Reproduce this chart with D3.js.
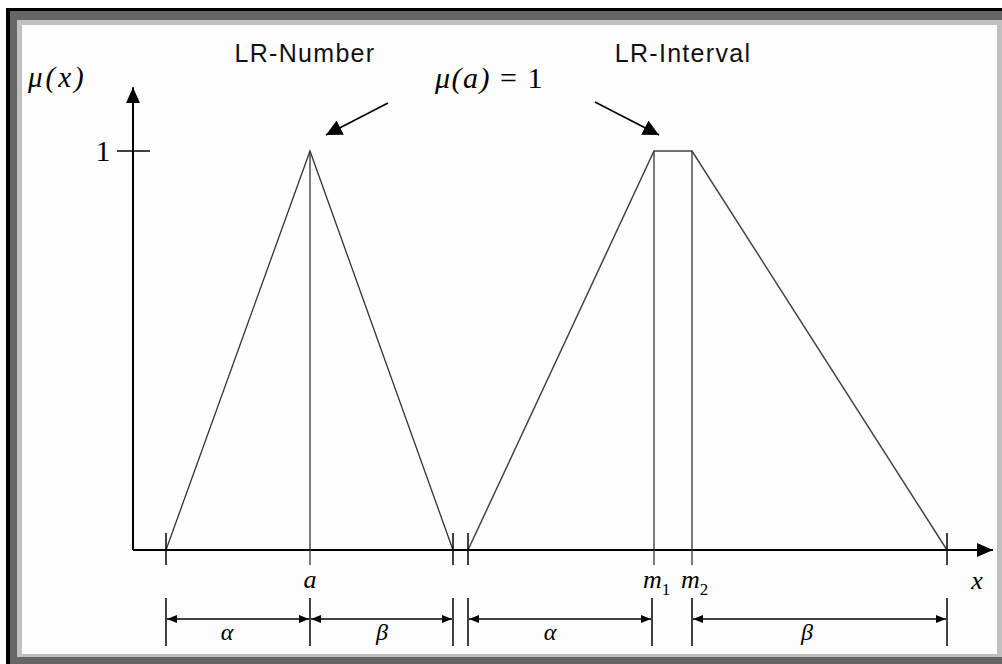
<!DOCTYPE html>
<html>
<head>
<meta charset="utf-8">
<script src="https://cdn.jsdelivr.net/npm/d3@7"></script>
<style>
  html, body { margin: 0; padding: 0; background: #fff; }
  svg { display: block; }
  .serif { font-family: "Liberation Serif", "DejaVu Serif", serif; }
  .sans { font-family: "Liberation Sans", Arial, sans-serif; }
</style>
</head>
<body>
<div id="chart"></div>
<script>
// LR-Zahl und LR-Intervall (Zugehörigkeitsfunktionen)

const W = 1002, H = 664;

// x-Werte in Achseneinheiten (Ursprung = 0)
const numberX = [3.3, 17.7, 32.0];          // links, a, rechts
const numberMu = [0, 1, 0];
const intervalX = [33.5, 52.1, 55.9, 81.4]; // links, m1, m2, rechts
const intervalMu = [0, 1, 1, 0];

// Marken auf der x-Achse
const tickX = [3.3, 32.0, 33.5, 81.4];
const peakX = [17.7, 52.1, 55.9];
const peakLabels = ["a", "m1", "m2"];

// Bemaßungen unten
const spans = [
  {from: 3.3, to: 17.7, label: "α", at: 9.4},
  {from: 17.7, to: 32.0, label: "β", at: 24.9},
  {from: 33.5, to: 51.9, label: "α", at: 41.7},
  {from: 55.9, to: 81.4, label: "β", at: 67.4}
];
const spanBars = [3.3, 17.7, 32.0, 33.5, 51.9, 55.9, 81.4];

const titles = [
  {text: "LR-Number", x: 17.2},
  {text: "LR-Interval", x: 55.0}
];

const x = d3.scaleLinear().domain([0, 86]).range([133, 993]);
const y = d3.scaleLinear().domain([0, 1]).range([550, 151]);

const svg = d3.select("#chart").append("svg")
  .attr("width", W).attr("height", H);

// Rahmen
svg.append("rect").attr("x", 6).attr("y", 8).attr("width", 996).attr("height", 656).attr("fill", "#000");
svg.append("rect").attr("x", 10).attr("y", 11).attr("width", 992).attr("height", 653).attr("fill", "#666");
svg.append("rect").attr("x", 17).attr("y", 20).attr("width", 985).attr("height", 637).attr("fill", "#c0c0c0");
svg.append("rect").attr("x", 22).attr("y", 25).attr("width", 975).attr("height", 629).attr("fill", "#fdfdfd");

const defs = svg.append("defs");
function marker(id, len, half) {
  defs.append("marker")
    .attr("id", id)
    .attr("markerUnits", "userSpaceOnUse")
    .attr("viewBox", `0 ${-half} ${len} ${2 * half}`)
    .attr("refX", len).attr("refY", 0)
    .attr("markerWidth", len).attr("markerHeight", 2 * half)
    .attr("orient", "auto-start-reverse")
    .append("path")
    .attr("d", `M0,${-half}L${len},0L0,${half}Z`)
    .attr("fill", "#000");
}
marker("axisHead", 16, 7);
marker("callHead", 16, 8);
marker("dimHead", 10, 4);

const g = svg.append("g");

// Achsen
g.append("line")
  .attr("x1", x(0)).attr("y1", y(0))
  .attr("x2", x(0)).attr("y2", y(1.16))
  .attr("stroke", "#000").attr("stroke-width", 2)
  .attr("marker-end", "url(#axisHead)");
g.append("line")
  .attr("x1", x(0)).attr("y1", y(0))
  .attr("x2", x(86)).attr("y2", y(0))
  .attr("stroke", "#000").attr("stroke-width", 2)
  .attr("marker-end", "url(#axisHead)");

// y-Tick bei 1
g.append("line")
  .attr("x1", x(0) - 16).attr("x2", x(0) + 17)
  .attr("y1", y(1)).attr("y2", y(1))
  .attr("stroke", "#000").attr("stroke-width", 1.5);
g.append("text").attr("class", "serif")
  .attr("x", x(0) - 30).attr("y", y(1) + 10)
  .attr("text-anchor", "middle")
  .style("font-size", "30px")
  .text("1");

// Kurven
const line = d3.line().x(d => x(d[0])).y(d => y(d[1]));
g.append("path")
  .attr("d", line(d3.zip(numberX, numberMu)))
  .attr("fill", "none").attr("stroke", "#333").attr("stroke-width", 1.3);
g.append("path")
  .attr("d", line(d3.zip(intervalX, intervalMu)))
  .attr("fill", "none").attr("stroke", "#444").attr("stroke-width", 1.5);

// senkrechte Linien an den Gipfeln
g.selectAll(".peak").data(peakX).enter().append("line")
  .attr("x1", d => x(d)).attr("x2", d => x(d))
  .attr("y1", y(1)).attr("y2", y(0) + 15)
  .attr("stroke", "#333").attr("stroke-width", 1.3);

// Ticks an den Fußpunkten
g.selectAll(".tick").data(tickX).enter().append("line")
  .attr("x1", d => x(d)).attr("x2", d => x(d))
  .attr("y1", y(0) - 17).attr("y2", y(0) + 15)
  .attr("stroke", "#000").attr("stroke-width", 1.5);

// Beschriftungen unter der Achse
const lab = g.append("g").attr("class", "serif").style("font-style", "italic");
lab.append("text")
  .attr("x", x(peakX[0])).attr("y", 588)
  .attr("text-anchor", "middle").style("font-size", "26px")
  .text(peakLabels[0]);
[1, 2].forEach(i => {
  const t = lab.append("text")
    .attr("x", x(peakX[i]) - 11).attr("y", 588)
    .style("font-size", "26px");
  t.append("tspan").text(peakLabels[i][0]);
  t.append("tspan").attr("dy", 7).style("font-size", "17px").style("font-style", "normal")
    .text(peakLabels[i][1]);
});
lab.append("text")
  .attr("x", 977).attr("y", 589)
  .attr("text-anchor", "middle").style("font-size", "26px")
  .text("x");

// Bemaßung
g.selectAll(".bar").data(spanBars).enter().append("line")
  .attr("x1", d => x(d)).attr("x2", d => x(d))
  .attr("y1", 598).attr("y2", 646)
  .attr("stroke", "#000").attr("stroke-width", 1.5);
g.selectAll(".span").data(spans).enter().append("line")
  .attr("x1", d => x(d.from) + 1).attr("x2", d => x(d.to) - 1)
  .attr("y1", 619).attr("y2", 619)
  .attr("stroke", "#000").attr("stroke-width", 1.3)
  .attr("marker-start", "url(#dimHead)")
  .attr("marker-end", "url(#dimHead)");
g.selectAll(".spanLabel").data(spans).enter().append("text")
  .attr("class", "serif")
  .attr("x", d => x(d.at)).attr("y", 640)
  .attr("text-anchor", "middle")
  .style("font-style", "italic").style("font-size", "24px")
  .text(d => d.label);

// Überschriften
g.selectAll(".title").data(titles).enter().append("text")
  .attr("class", "sans")
  .attr("x", d => x(d.x)).attr("y", 62)
  .attr("text-anchor", "middle")
  .style("font-size", "25px").style("letter-spacing", "1.3px")
  .attr("fill", "#111")
  .text(d => d.text);

// μ(x) an der y-Achse
g.append("text").attr("class", "serif")
  .attr("x", 28).attr("y", 87)
  .style("font-style", "italic").style("font-size", "29px")
  .style("letter-spacing", "3px")
  .text("μ(x)");

// μ(a) = 1 mit Pfeilen
const eq = g.append("text").attr("class", "serif")
  .attr("x", 435).attr("y", 88).style("font-size", "30px")
  .style("letter-spacing", "1.5px");
eq.append("tspan").style("font-style", "italic").text("μ(a)");
eq.append("tspan").text(" = 1");

g.append("line")
  .attr("x1", 388).attr("y1", 103).attr("x2", 326).attr("y2", 135)
  .attr("stroke", "#000").attr("stroke-width", 1.6)
  .attr("marker-end", "url(#callHead)");
g.append("line")
  .attr("x1", 595).attr("y1", 102).attr("x2", 659).attr("y2", 135)
  .attr("stroke", "#000").attr("stroke-width", 1.6)
  .attr("marker-end", "url(#callHead)");
</script>
</body>
</html>
